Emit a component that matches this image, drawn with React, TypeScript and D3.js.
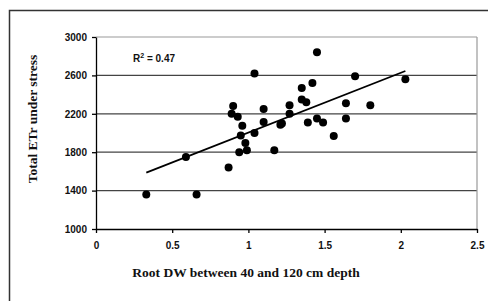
import React, { useEffect, useRef } from "react";
import * as d3 from "d3";

// root dry weight (40-120 cm) vs total ETr under stress
const rootDW = [0.33, 0.59, 0.66, 0.87, 0.94, 0.99, 0.90, 0.89, 0.93, 0.96, 0.95, 0.98,
  1.04, 1.04, 1.10, 1.10, 1.17, 1.21, 1.22, 1.27, 1.27, 1.35, 1.35, 1.38, 1.42, 1.45,
  1.45, 1.49, 1.39, 1.56, 1.64, 1.64, 1.70, 1.80, 2.03];
const totalETr = [1360, 1750, 1360, 1640, 1800, 1820, 2280, 2200, 2170, 2075, 1975, 1895,
  2000, 2620, 2250, 2115, 1820, 2085, 2100, 2290, 2200, 2470, 2350, 2320, 2520, 2840,
  2150, 2110, 2110, 1970, 2310, 2150, 2590, 2290, 2560];
const xTicks = [0, 0.5, 1, 1.5, 2, 2.5];
const yTicks = [1000, 1400, 1800, 2200, 2600, 3000];
const r2Label = "0.47";
const xTitle = "Root DW between 40 and 120 cm depth";
const yTitle = "Total ETr under stress";

const W = 488, H = 301;
const margin = { left: 96, right: 11, top: 37, bottom: 72 };

export default function App() {
  const ref = useRef<SVGSVGElement>(null);

  useEffect(() => {
    const svg = d3.select(ref.current);
    svg.selectAll("*").remove();

    const x = d3.scaleLinear().domain([0, 2.5]).range([margin.left, W - margin.right]);
    const y = d3.scaleLinear().domain([1000, 3000]).range([H - margin.bottom, margin.top]);

    // outer frame
    svg.append("rect")
      .attr("x", 9.5).attr("y", 10.5).attr("width", 500).attr("height", 320)
      .attr("fill", "#fff").attr("stroke", "#333").attr("stroke-width", 1.5);

    // grid
    svg.append("g").selectAll("line").data(yTicks.slice(1)).join("line")
      .attr("x1", x(0)).attr("x2", x(2.5))
      .attr("y1", d => y(d)).attr("y2", d => y(d))
      .attr("stroke", d => d === 3000 ? "#999" : "#444").attr("stroke-width", 1.2);
    svg.append("line")
      .attr("x1", x(2.5)).attr("x2", x(2.5)).attr("y1", y(3000)).attr("y2", y(1000))
      .attr("stroke", "#999").attr("stroke-width", 1.2);

    const font = "'Liberation Sans', Arial, sans-serif";

    const gx = svg.append("g").attr("transform", `translate(0,${y(1000)})`)
      .call(d3.axisBottom(x).tickValues(xTicks).tickSize(4).tickSizeOuter(0).tickPadding(9)
        .tickFormat(d => String(d)));
    const gy = svg.append("g").attr("transform", `translate(${x(0)},0)`)
      .call(d3.axisLeft(y).tickValues(yTicks).tickSize(4).tickSizeOuter(0).tickPadding(5)
        .tickFormat(d => String(d)));
    [gx, gy].forEach(g => {
      g.select(".domain").attr("stroke", "#000").attr("stroke-width", 1.3);
      g.selectAll(".tick line").attr("stroke", "#000").attr("stroke-width", 1.3);
      g.selectAll(".tick text").attr("fill", "#111").style("font-family", font)
        .style("font-size", "10px").style("font-weight", "bold");
    });

    // trend line from least squares
    const n = rootDW.length;
    const mx = d3.mean(rootDW)!, my = d3.mean(totalETr)!;
    let sxy = 0, sxx = 0;
    for (let i = 0; i < n; i++) {
      sxy += (rootDW[i] - mx) * (totalETr[i] - my);
      sxx += (rootDW[i] - mx) ** 2;
    }
    const slope = sxy / sxx, icpt = my - slope * mx;
    const [x0, x1] = d3.extent(rootDW) as [number, number];
    svg.append("path")
      .attr("d", d3.line()([[x(x0), y(icpt + slope * x0)], [x(x1), y(icpt + slope * x1)]]))
      .attr("stroke", "#000").attr("stroke-width", 1.8).attr("fill", "none");

    svg.append("g").selectAll("circle").data(rootDW).join("circle")
      .attr("cx", d => x(d)).attr("cy", (d, i) => y(totalETr[i]))
      .attr("r", 4).attr("fill", "#000");

    const r2 = svg.append("text").attr("x", 133).attr("y", 62)
      .style("font-family", font).style("font-size", "10px").style("font-weight", "bold")
      .attr("fill", "#111");
    r2.append("tspan").text("R");
    r2.append("tspan").attr("dy", -4).style("font-size", "7px").text("2");
    r2.append("tspan").attr("dy", 4).text(" = " + r2Label);

    const serif = "'Liberation Serif', 'Times New Roman', serif";
    svg.append("text").attr("x", 246).attr("y", 277).attr("text-anchor", "middle")
      .style("font-family", serif).style("font-size", "13.5px").style("font-weight", "bold")
      .attr("fill", "#111").text(xTitle);
    svg.append("text").attr("transform", `translate(37,119) rotate(-90)`).attr("text-anchor", "middle")
      .style("font-family", serif).style("font-size", "13.5px").style("font-weight", "bold")
      .attr("fill", "#111").text(yTitle);
  }, []);

  return (
    <svg ref={ref} width={W} height={H}
      style={{ position: "absolute", left: 0, top: 0, background: "#fff" }} />
  );
}
